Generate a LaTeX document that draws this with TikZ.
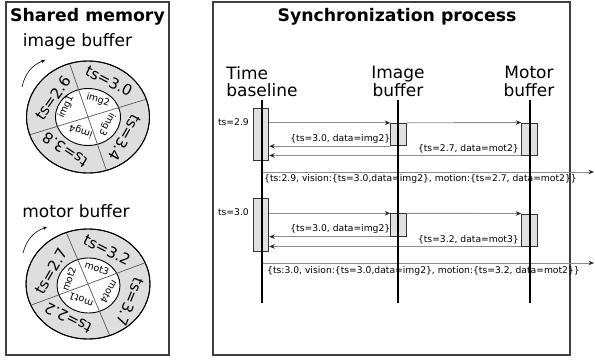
\documentclass[tikz,border=0pt]{standalone}
\usepackage{fontspec}
\setmainfont{DejaVu Sans}
\usetikzlibrary{arrows.meta,calc}
\begin{document}
\begin{tikzpicture}[x=1pt,y=-1pt,
  panel/.style={draw=black!75, line width=1.1pt},
  ttl/.style={font=\fontsize{17.3}{20}\selectfont\bfseries, inner sep=0},
  hdr/.style={font=\fontsize{17}{17.5}\selectfont, align=left, inner sep=0},
  ringlbl/.style={font=\fontsize{15}{17}\selectfont, inner sep=0},
  innerlbl/.style={font=\fontsize{9.5}{11}\selectfont, inner sep=0},
  ringfill/.style={fill=black!13, draw=black, line width=0.9pt},
  hole/.style={fill=white, draw=black, line width=0.9pt},
  sector/.style={draw=black!65, line width=0.7pt},
  turn/.style={-{Stealth[length=4pt,width=3.5pt]}, line width=0.6pt},
  actbox/.style={draw=black!80, fill=black!12, line width=0.9pt, inner sep=0, minimum width=15.5pt},
  msg/.style={draw=black!45, line width=0.9pt, -{Stealth[length=5.5pt,width=4.5pt,color=black!85]}},
  small/.style={font=\fontsize{9.2}{11}\selectfont, inner sep=0},
  lifeline/.style={draw=black, line width=1.2pt}
]
\useasboundingbox (0,0) rectangle (595,362);

% ---------- panels ----------
\draw[panel] (6,2) rectangle (169,355);
\draw[panel] (213,2) rectangle (570,355);
\node[ttl] (tshared) at (87.5,16.5) {Shared memory};
\node[ttl] (tsync) at (397,16.5) {Synchronization process};

% ---------- image buffer ring ----------
\node[hdr] (himg) at (77.5,41.5) {image buffer};
\coordinate (C1) at (88,117);
\draw[ringfill] (C1) ellipse [x radius=61.5pt, y radius=56pt];
\draw[hole] (C1) ellipse [x radius=32.5pt, y radius=28.5pt];
\begin{scope}
  \clip (C1) ellipse [x radius=61.5pt, y radius=56pt];
  \draw[sector] (C1) ++(17:200pt) -- ++(197:400pt);
  \draw[sector] (C1) ++(109:200pt) -- ++(289:400pt);
\end{scope}
\draw[ringfill, fill=none] (C1) ellipse [x radius=61.5pt, y radius=56pt];
\node[ringlbl, rotate=55] (r26) at (53,98) {ts=2.6};
\node[ringlbl, rotate=-27] (r30) at (109,81) {ts=3.0};
\node[ringlbl, rotate=-119] (r34) at (125,138) {ts=3.4};
\node[ringlbl, rotate=147] (r38) at (65,150) {ts=3.8};
\node[innerlbl, rotate=65] (i1) at (66,107) {img1};
\node[innerlbl, rotate=-17] (i2) at (98,100) {img2};
\node[innerlbl, rotate=-118] (i3) at (107,124) {img3};
\node[innerlbl, rotate=162] (i4) at (81,131) {img4};
\coordinate (a1s) at (22,87);
\coordinate (a1e) at (45,60);
\draw[turn] (a1s) to[bend left=28] (a1e);

% ---------- motor buffer ring ----------
\node[hdr] (hmot) at (76,211) {motor buffer};
\coordinate (C2) at (88,284);
\draw[ringfill] (C2) ellipse [x radius=62pt, y radius=55pt];
\draw[hole] (88.5,285.5) ellipse [x radius=31.5pt, y radius=27.5pt];
\begin{scope}
  \clip (C2) ellipse [x radius=62pt, y radius=55pt];
  \draw[sector] (C2) ++(20.4:200pt) -- ++(200.4:400pt);
  \draw[sector] (C2) ++(112.8:200pt) -- ++(292.8:400pt);
\end{scope}
\draw[ringfill, fill=none] (C2) ellipse [x radius=62pt, y radius=55pt];
\node[ringlbl, rotate=60] (r27) at (51,271) {ts=2.7};
\node[ringlbl, rotate=-27] (r32) at (107,250) {ts=3.2};
\node[ringlbl, rotate=-112] (r37) at (130,302) {ts=3.7};
\node[ringlbl, rotate=153] (r22) at (68,318) {ts=2.2};
\node[innerlbl, rotate=70] (m2) at (69,279) {mot2};
\node[innerlbl, rotate=-19] (m3) at (97,268) {mot3};
\node[innerlbl, rotate=-121] (m4) at (109,292) {mot4};
\node[innerlbl, rotate=160] (m1) at (81,300) {mot1};
\coordinate (a2s) at (23,253);
\coordinate (a2e) at (47,227);
\draw[turn] (a2s) to[bend left=28] (a2e);

% ---------- sequence headers ----------
\node[hdr] (hTime) at (262,81.5) {Time\\baseline};
\node[hdr, align=center] (hImg) at (398,81.5) {Image\\buffer};
\node[hdr, align=center] (hMot) at (529,81.5) {Motor\\buffer};

\coordinate (tlTop) at (262,100);
\coordinate (tlBot) at (262,303);
\coordinate (ilTop) at (398,100);
\coordinate (ilBot) at (398,303);
\coordinate (mlTop) at (530,100);
\coordinate (mlBot) at (530,303);

% ---------- first round ----------
\node[actbox, minimum height=52pt] (tb1) at (261,134) {};
\node[actbox, minimum height=22.5pt] (ib1) at (398.5,134.5) {};
\node[actbox, minimum height=32pt] (mb1) at (529.5,139) {};
\draw[msg] (tb1.east |- ib1.north) -- (ib1.north west);
\draw[msg] (ib1.north east) -- (mb1.north west);
\draw[msg] (ib1.south west) -- (tb1.east |- ib1.south);
\draw[msg] (mb1.south west) -- (tb1.east |- mb1.south);
\node[small, anchor=east] (ts29) at (249,122) {ts=2.9};
\node[small, anchor=east] (l1a) at (390.5,139) {\{ts=3.0, data=img2\}};
\node[small, anchor=east] (l1b) at (519,149) {\{ts=2.7, data=mot2\}};
\coordinate (o1s) at (262,172);
\coordinate (o1e) at (594,172);
\draw[msg] (o1s) -- (o1e);
\node[small, anchor=west] (o1) at (264,179) {\{ts:2.9, vision:\{ts=3.0,data=img2\}, motion:\{ts=2.7, data=mot2\}\}};

% ---------- second round ----------
\node[actbox, minimum height=53pt] (tb2) at (261,224.5) {};
\node[actbox, minimum height=22.5pt] (ib2) at (398.5,225) {};
\node[actbox, minimum height=32pt] (mb2) at (529.5,230) {};
\draw[msg] (tb2.east |- ib2.north) -- (ib2.north west);
\draw[msg] (ib2.north east) -- (mb2.north west);
\draw[msg] (ib2.south west) -- (tb2.east |- ib2.south);
\draw[msg] (mb2.south west) -- (tb2.east |- mb2.south);
\node[small, anchor=east] (ts30) at (249,212) {ts=3.0};
\node[small, anchor=east] (l2a) at (390.5,229) {\{ts=3.0, data=img2\}};
\node[small, anchor=east] (l2b) at (519,240) {\{ts=3.2, data=mot3\}};
\coordinate (o2s) at (262,263);
\coordinate (o2e) at (594,263);
\draw[msg] (o2s) -- (o2e);
\node[small, anchor=west] (o2) at (267,271) {\{ts:3.0, vision:\{ts=3.0,data=img2\}, motion:\{ts=3.2, data=mot2\}\}};

% ---------- lifelines ----------
\draw[lifeline] (tlTop) -- (tlBot);
\draw[lifeline] (ilTop) -- (ilBot);
\draw[lifeline] (mlTop) -- (mlBot);
\end{tikzpicture}
\end{document}
